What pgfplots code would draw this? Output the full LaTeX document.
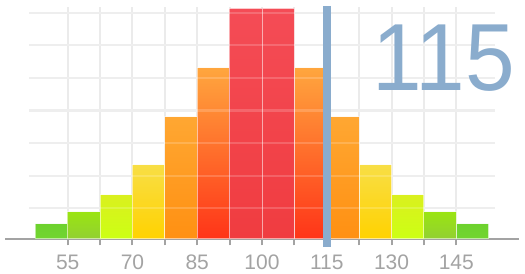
\documentclass[border=0pt]{standalone}
\usepackage{pgfplots}
\pgfplotsset{compat=1.18}
\usepackage{fontspec}
\setmainfont{Liberation Sans}
\definecolor{gridc}{HTML}{EBEBEB}
\definecolor{axc}{HTML}{A3A3A3}
\definecolor{labc}{HTML}{A3A3A3}
\definecolor{blu}{HTML}{8AACCD}
\definecolor{gA}{HTML}{6DD22E}
\definecolor{gAb}{HTML}{72D530}
\definecolor{gBt}{HTML}{9AE412}
\definecolor{gBm}{HTML}{A9DA55}
\definecolor{gBb}{HTML}{92D032}
\definecolor{yCt}{HTML}{DAF01E}
\definecolor{yCm}{HTML}{D8F43A}
\definecolor{yCb}{HTML}{CCFF14}
\definecolor{yDt}{HTML}{F8DE45}
\definecolor{yDm}{HTML}{F8DA50}
\definecolor{yDb}{HTML}{FFD200}
\definecolor{oEt}{HTML}{FFA732}
\definecolor{oEm}{HTML}{F8B262}
\definecolor{oEb}{HTML}{FF9012}
\definecolor{oFt}{HTML}{FFA63E}
\definecolor{oFm}{HTML}{F99A72}
\definecolor{oFb}{HTML}{FF3418}
\definecolor{rGt}{HTML}{F44C56}
\definecolor{rGm}{HTML}{F5686F}
\definecolor{rGb}{HTML}{F03C40}
\pgfplotstableread{
x y
51.25 15
148.75 15
}\tA
\pgfplotstableread{
x y
58.75 27
141.25 27
}\tB
\pgfplotstableread{
x y
66.25 44
133.75 44
}\tC
\pgfplotstableread{
x y
73.75 74
126.25 74
}\tD
\pgfplotstableread{
x y
81.25 122
118.75 122
}\tE
\pgfplotstableread{
x y
88.75 171
111.25 171
}\tF
\pgfplotstableread{
x y
96.25 230.7
103.75 230.7
}\tG
\begin{document}
\begin{tikzpicture}
\begin{axis}[
  scale only axis, width=514bp, height=239bp,
  xmin=40.48, xmax=159.52, ymin=0, ymax=239,
  clip=false,
  axis y line=none, axis x line*=bottom,
  x axis line style={axc, line width=2.7bp, -},
  xtick={55,62.5,70,77.5,85,92.5,100,107.5,115,122.5,130,137.5,145},
  xticklabels={55,,70,,85,,100,,115,,130,,145},
  xtick align=outside, major tick length=6.5bp,
  xtick style={axc, line width=2bp},
  xticklabel style={font=\fontsize{21bp}{21bp}\selectfont, text=labc, anchor=base, yshift=-24.3bp},
  bars/.style={ybar, bar width=7.5, bar shift=0pt, draw=white, draw opacity=0.55, line width=1bp},
]
% bounding box
\path (axis cs:39.32,-33) rectangle (axis cs:160.91,239);
% grid
\pgfplotsinvokeforeach{55,62.5,70,77.5,85,92.5,100,107.5,115,122.5,130,137.5,145}{
  \draw[gridc, line width=2bp] (axis cs:#1,0) -- (axis cs:#1,232);
}
\pgfplotsinvokeforeach{30.7,63.3,95.9,128.5,161.1,193.7,226.3}{
  \draw[gridc, line width=2.2bp] (axis cs:46.04,#1) -- (axis cs:153.96,#1);
}
\addplot[bars, top color=gA, bottom color=gAb] table[x=x,y=y]{\tA};
\addplot[bars, top color=gBt, middle color=gBm, bottom color=gBb] table[x=x,y=y]{\tB};
\addplot[bars, top color=yCt, middle color=yCm, bottom color=yCb] table[x=x,y=y]{\tC};
\addplot[bars, top color=yDt, middle color=yDm, bottom color=yDb] table[x=x,y=y]{\tD};
\addplot[bars, top color=oEt, middle color=oEm, bottom color=oEb] table[x=x,y=y]{\tE};
\addplot[bars, top color=oFt, middle color=oFm, bottom color=oFb] table[x=x,y=y]{\tF};
\addplot[bars, top color=rGt, middle color=rGm, bottom color=rGb] table[x=x,y=y]{\tG};
% faint grid over bars
\pgfplotsinvokeforeach{30.7,63.3,95.9,128.5,161.1,193.7,226.3}{
  \draw[white, opacity=0.18, line width=2.2bp] (axis cs:46.04,#1) -- (axis cs:153.96,#1);
}
% marker line
\draw[blu, line width=7.5bp] (axis cs:115,233) -- (axis cs:115,-7.7);
\node[anchor=base east, inner sep=0pt, text=blu, font=\fontsize{95.4bp}{100bp}\selectfont]
  at (axis cs:158.57,148) {\scalebox{0.935}[1]{115}};
\end{axis}
\end{tikzpicture}
\end{document}
